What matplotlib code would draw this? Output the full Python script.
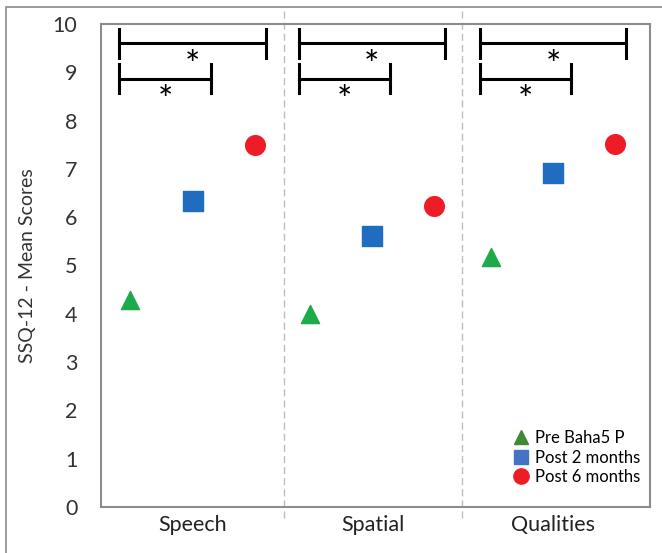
import matplotlib
matplotlib.use("Agg")
from matplotlib import pyplot as plt
from matplotlib.lines import Line2D
from matplotlib.patches import Rectangle

categories = ["Speech", "Spatial", "Qualities"]
pre_baha = [4.28, 4.0, 5.17]
post_2m = [6.33, 5.62, 6.92]
post_6m = [7.49, 6.23, 7.51]
series_names = ["Pre Baha5 P", "Post 2 months", "Post 6 months"]
yticks = [0, 1, 2, 3, 4, 5, 6, 7, 8, 9, 10]

plt.rcParams['font.family'] = ['Lato', 'DejaVu Sans']

fig = plt.figure(figsize=(6.62, 5.53), dpi=100)
ax = fig.add_axes([0.1526, 0.0832, 0.8294, 0.8734])

# outer frame round the whole picture
fig.patches.append(Rectangle((0.009, -0.05), 1.2, 1.037, transform=fig.transFigure,
                             fill=False, edgecolor="#8a8a8a", linewidth=1.2))

idx = range(len(categories))
shift = [0, -0.02, -0.03]
ax.scatter([i + 0.16 + shift[i] for i in idx], pre_baha, marker="^", s=170, color="#1daa4b", zorder=3)
ax.scatter([i + 0.5 + shift[i] for i in idx], post_2m, marker="s", s=190, color="#1f6cc0", zorder=3)
ax.scatter([i + 0.84 + shift[i] for i in idx], post_6m, marker="o", s=200, color="#ee1c25", zorder=3)

# significance brackets
for i in idx:
    sh = shift[i]
    x0 = i + 0.1 + sh
    for x1, y, star_x in [(i + 0.9 + sh, 9.6, i + 0.5 + sh), (i + 0.6 + sh, 8.87, i + 0.35 + sh)]:
        ax.plot([x0, x1], [y, y], color="black", lw=2.2)
        ax.plot([x0, x0], [y - 0.3, y + 0.3], color="black", lw=2.2)
        ax.plot([x1, x1], [y - 0.3, y + 0.3], color="black", lw=2.2)
        ax.text(star_x, y - 0.13, "*", ha="center", va="top", fontsize=26)

# dashed category dividers
for d in [1, 1.97]:
    ax.axvline(d, ymin=-0.023, ymax=1.035, color="#bdbdbd", ls=(0, (5, 3)), lw=1, clip_on=False)

ax.set_xlim(0, 3)
ax.set_ylim(0, 10)
ax.set_yticks(yticks)
ax.set_xticks([i + 0.5 - 0.015 * i for i in idx])
ax.set_xticklabels(categories)
ax.tick_params(axis="y", length=0, pad=17, labelsize=15.5, labelcolor="#333333")
ax.tick_params(axis="x", length=0, pad=6, labelsize=15.5, labelcolor="#222222")
ax.set_ylabel("SSQ-12 - Mean Scores", fontsize=14, color="#333333", labelpad=12)
for s in ax.spines.values():
    s.set_color("#8c8c8c")
    s.set_linewidth(1.5)

handles = [
    Line2D([], [], marker="^", ls="none", color="#3f8a35", markersize=10),
    Line2D([], [], marker="s", ls="none", color="#4472c4", markersize=10),
    Line2D([], [], marker="o", ls="none", color="#ee1c25", markersize=11),
]
ax.legend(handles, series_names, loc="lower right", bbox_to_anchor=(1.0, 0.025), frameon=False,
          fontsize=12, handletextpad=0.1, labelspacing=0.2, borderaxespad=0.2, handlelength=1.5)

fig.savefig("out.png", dpi=100)
